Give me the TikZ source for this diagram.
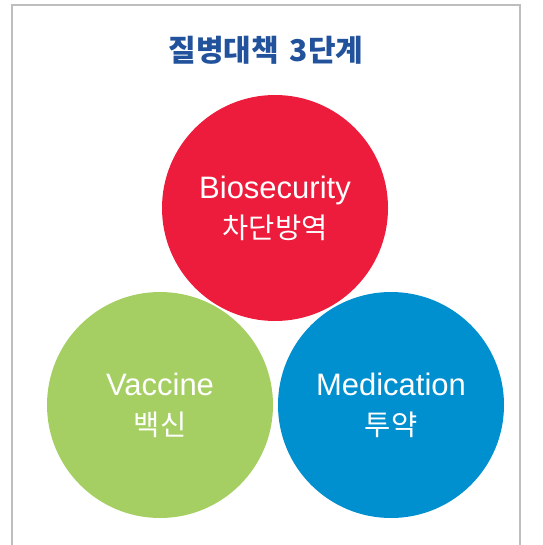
\documentclass[tikz,border=0pt]{standalone}
\usepackage{fontspec}
\setmainfont{Liberation Sans}
\newfontfamily\krfont{Noto Sans CJK KR}
\usetikzlibrary{positioning}

\definecolor{titleblue}{RGB}{33,82,155}
\definecolor{bioRed}{RGB}{238,28,60}
\definecolor{vacGreen}{RGB}{166,207,99}
\definecolor{medBlue}{RGB}{0,144,208}
\definecolor{frameGray}{RGB}{190,190,190}

% korean line inside a stage circle
\newcommand{\krline}[1]{\krfont\fontsize{28.5}{40}\selectfont #1}

\begin{document}
\begin{tikzpicture}[
    x=1pt, y=-1pt,
    every node/.style={align=center},
    stage/.style={circle, minimum size=226pt, inner sep=0pt, text=white,
                  font=\fontsize{31}{40}\selectfont}
]

\useasboundingbox (0,0) rectangle (542,545);

% ----------------------
% Frame (open at the bottom)
% ----------------------
\draw[frameGray, line width=1.5pt] (12,545) |- (520,5) -- (520,545);

% ----------------------
% Title
% ----------------------
\node[text=titleblue, font=\krfont\bfseries\fontsize{30}{34}\selectfont] (title) at (266,50) {질병대책\hspace{4pt} 3단계};

% ----------------------
% Stages
% ----------------------

% Biosecurity
\node[stage, fill=bioRed] (bio) at (275,208) {Biosecurity\\ \krline{차단방역}};

% Vaccine
\node[stage, fill=vacGreen] (vac) at (160,405) {Vaccine\\ \krline{백신}};

% Medication
\node[stage, fill=medBlue] (med) at (391,405) {Medication\\ \krline{투약}};

\end{tikzpicture}
\end{document}
